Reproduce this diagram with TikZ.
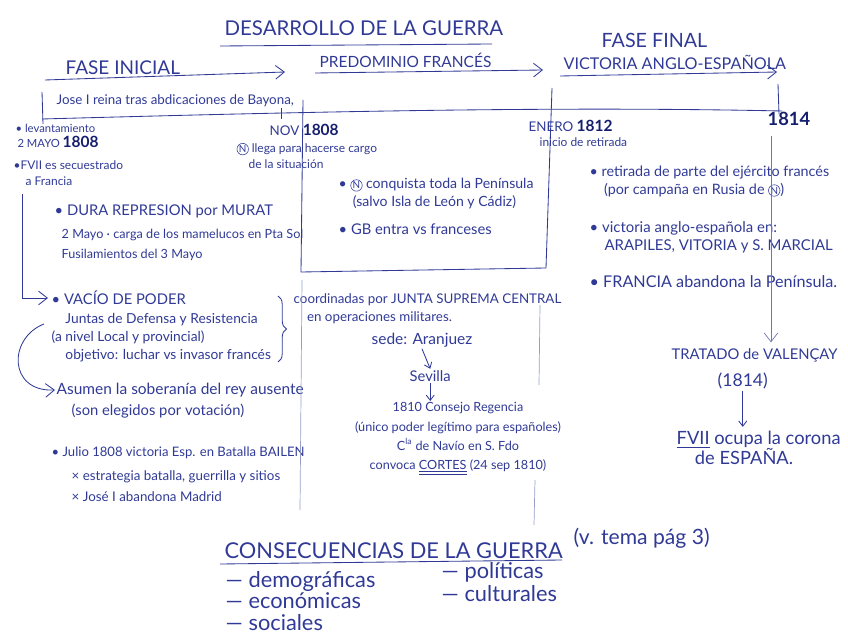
\documentclass[tikz,border=0pt]{standalone}
\usepackage{fontspec}
\setmainfont{Lato}
\usetikzlibrary{arrows.meta,positioning,decorations.pathreplacing}
\definecolor{ink}{RGB}{48,58,150}
\definecolor{darkink}{RGB}{22,30,110}
\definecolor{paleink}{RGB}{150,158,200}
\newcommand{\nap}{\tikz[baseline=(nn.base)]\node[draw=ink,text=ink,circle,inner sep=0.3pt,font=\fontsize{7}{7}\selectfont](nn){N};}
\newcommand{\yr}[1]{{\fontsize{11}{11}\selectfont\bfseries\color{darkink}#1}}

\begin{document}
\begin{tikzpicture}[x=0.025cm,y=-0.025cm,
  every node/.style={text=ink, inner sep=1pt},
  note/.style={anchor=west, align=left, font=\fontsize{9.5}{12.8}\selectfont},
  head/.style={anchor=west, font=\fontsize{12}{14}\selectfont},
  big/.style={anchor=west, align=left, font=\fontsize{15.5}{15}\selectfont},
  rule/.style={draw=ink, line width=0.6pt},
  faint/.style={draw=paleink, line width=0.5pt},
  barb/.style={-{Straight Barb[length=2.2mm,width=3.4mm]}},
  tick/.style={-{Straight Barb[length=1.3mm,width=2mm]}}]
\useasboundingbox (0,0) rectangle (848,642);

% titulos y fases
\node[head, font=\fontsize{14.5}{16}\selectfont] (titulo) at (223,28) {DESARROLLO DE LA GUERRA};
\draw[rule] (220,46) -- (492,44);
\node[head, font=\fontsize{13.5}{14}\selectfont] (inicial) at (64,68) {FASE INICIAL};
\draw[rule, barb] (45,80) -- (285,72);
\node[head, font=\fontsize{11}{14}\selectfont] (predominio) at (318,60) {PREDOMINIO FRANCÉS};
\draw[rule, barb] (315,73) -- (543,70);
\node[head, font=\fontsize{14}{14}\selectfont] (final) at (600,40) {FASE FINAL};
\node[head, font=\fontsize{11.5}{14}\selectfont] (victoria) at (562,62) {VICTORIA ANGLO-ESPAÑOLA};
\draw[rule, barb] (560,76) -- (777,72);

% linea del tiempo
\node[note] (jose) at (55,101) {Jose I reina tras abdicaciones de Bayona,};
\draw[rule] (42,119) .. controls (300,112) and (550,106) .. (782,111);
\draw[rule] (42,92) -- (43,124);
\draw[rule] (281,108) -- (281,119);
\draw[rule] (303,100) -- (301,272) -- (546,268) -- (552,88);
\draw[rule] (778,84) -- (779,114);

% fase inicial
\node[note, font=\fontsize{8}{10.6}\selectfont] (levant) at (14,136) {• levantamiento\\\,2 MAYO \yr{1808}};
\node[note, font=\fontsize{8.5}{11.5}\selectfont] (secuestro) at (12,173) {•FVII es secuestrado\\\quad a Francia};
\node[note, font=\fontsize{10.5}{12}\selectfont] (murat) at (53,211) {• DURA REPRESION por MURAT};
\node[note, font=\fontsize{9}{14}\selectfont] (mayo) at (60,245) {2 Mayo · carga de los mamelucos en Pta Sol\\Fusilamientos del 3 Mayo};
\coordinate (bajada) at (22,194);
\draw[rule, barb] (bajada) |- (48,298);
\node[note, font=\fontsize{10.5}{12}\selectfont] (vacio) at (50,298) {• VACÍO DE PODER};
\node[note, font=\fontsize{9.8}{12.8}\selectfont] (juntas) at (50,338) {\quad Juntas de Defensa y Resistencia\\(a nivel Local y provincial)\\\quad objetivo: luchar vs invasor francés};
\draw[rule, decorate, decoration={brace, amplitude=6pt}] (278,296) -- (278,362);
\node[note] (coord) at (292,309) {coordinadas por JUNTA SUPREMA CENTRAL\\\quad en operaciones militares.};
\node[note, font=\fontsize{11}{12}\selectfont] (asumen) at (55,390) {Asumen la soberanía del rey ausente};
\coordinate (arco) at (44,324);
\draw[rule, barb] (arco) .. controls (8,338) and (8,392) .. (asumen.west);
\node[note, font=\fontsize{10.5}{12}\selectfont] (elegidos) at (70,411) {(son elegidos por votación)};
\node[note, font=\fontsize{9.3}{12}\selectfont] (bailen) at (50,453) {• Julio 1808 victoria Esp. en Batalla BAILEN};
\node[note, font=\fontsize{9.5}{15}\selectfont] (estrategia) at (70,486) {× estrategia batalla, guerrilla y sitios\\× José I abandona Madrid};

% predominio frances
\node[note] (nov) at (268,130) {NOV \yr{1808}};
\node[note, font=\fontsize{8.5}{11.5}\selectfont] (llega) at (235,156) {\nap\ llega para hacerse cargo\\\quad de la situación};
\node[note, font=\fontsize{10}{12.8}\selectfont] (conquista) at (337,194) {• \nap\ conquista toda la Península\\\quad (salvo Isla de León y Cádiz)};
\node[note, font=\fontsize{10.5}{12.8}\selectfont] (gb) at (337,229) {• GB entra vs franceses};
\node[note, font=\fontsize{11}{12}\selectfont] (sede) at (370,340) {sede: Aranjuez};
\node[note, font=\fontsize{10.5}{12}\selectfont] (sevilla) at (408,376) {Sevilla};
\node[note, anchor=north, align=center, font=\fontsize{9}{13.6}\selectfont] (regencia) at (458,401) {1810 Consejo Regencia\\(único poder legítimo para españoles)\\C\textsuperscript{la} de Navío en S. Fdo\\convoca \underline{\underline{CORTES}} (24 sep 1810)};
\draw[rule, tick] (sede.south) -- (sevilla.north);
\draw[rule, tick] (sevilla.south) -- (sevilla.south |- regencia.north);
\draw[faint] (302,280) -- (300,510);
\draw[faint] (540,305) -- (539,385);
\draw[faint] (535,480) -- (534,525);

% fase final
\node[note] (enero) at (527,126) {ENERO \yr{1812}};
\node[note, font=\fontsize{8.5}{10}\selectfont] (retirada) at (538,142) {inicio de retirada};
\node[note] (n1814) at (766,119) {\yr{\fontsize{13}{13}\selectfont 1814}};
\node[note, font=\fontsize{10.2}{12.8}\selectfont] (ejercito) at (588,181) {• retirada de parte del ejército francés\\\quad(por campaña en Rusia de \nap)};
\node[note, font=\fontsize{10.6}{12.8}\selectfont] (victorias) at (588,237) {• victoria anglo-española en:\\\quad ARAPILES, VITORIA y S. MARCIAL};
\node[note, font=\fontsize{11.5}{12}\selectfont] (francia) at (588,282) {• FRANCIA abandona la Península.};
\node[note, font=\fontsize{10.5}{14}\selectfont] (tratado) at (670,355) {TRATADO de VALENÇAY};
\node[note, font=\fontsize{12.5}{14}\selectfont] (anio) at (716,381) {(1814)};
\node[note, font=\fontsize{13}{14}\selectfont] (fvii) at (675,448) {\underline{FVII} ocupa la corona\\\quad de ESPAÑA.};
\coordinate (linea) at (771,136);
\draw[faint, draw=ink!70, barb, shorten >=3pt] (linea) -- (linea |- tratado.north);
\draw[rule, tick, shorten >=2pt] (anio.south) -- (anio.south |- fvii.north);

% consecuencias
\node[head, font=\fontsize{15.5}{17}\selectfont] (consec) at (223,551) {CONSECUENCIAS DE LA GUERRA};
\draw[rule] (220,564) -- (562,560);
\node[big, font=\fontsize{15}{15}\selectfont] (vtema) at (572,538) {(v. tema pág 3)};
\node[big] (demog) at (224,601) {— demográficas\\— económicas\\— sociales};
\node[big, font=\fontsize{15.5}{16.3}\selectfont] (polit) at (440,582) {— políticas\\— culturales};
\end{tikzpicture}
\end{document}
